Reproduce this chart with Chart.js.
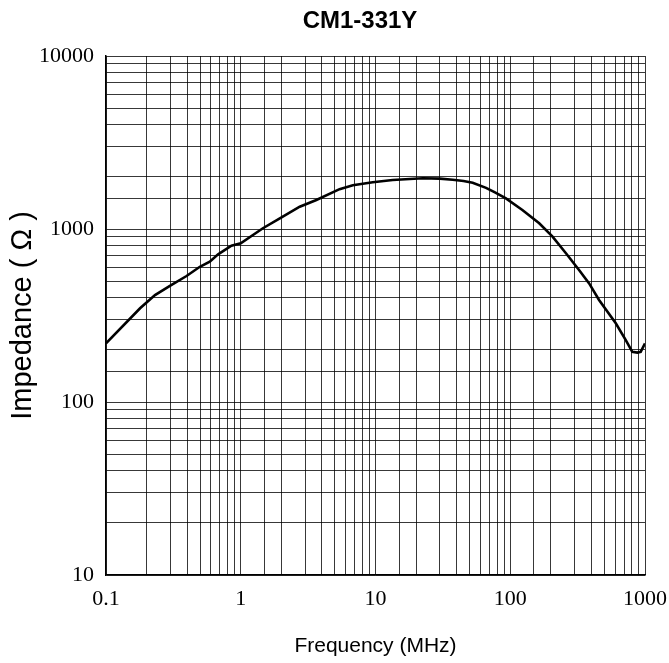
<!DOCTYPE html>
<html>
<head>
<meta charset="utf-8">
<script src="https://cdn.jsdelivr.net/npm/chart.js@4/dist/chart.umd.min.js"></script>
<style>
  html, body { margin: 0; padding: 0; background: #fff; }
  #wrap { width: 669px; height: 663px; }
</style>
</head>
<body>
<div id="wrap"><canvas id="impChart" width="669" height="663"></canvas></div>
<script>
// --- data ---
const chartTitle = "CM1-331Y";
const freqMHz = [0.1, 0.179, 0.231, 0.298, 0.396, 0.497, 0.589, 0.679, 0.853, 1.0,
                 1.46, 1.95, 2.74, 3.64, 5.41, 6.79, 9.55, 13.4, 22.4, 30.0, 37.4,
                 45.0, 52.6, 66.1, 77.0, 92.9, 123, 164, 206, 259, 324, 385, 456,
                 607, 720, 805, 877, 929, 1000];
const impedanceOhm = [218, 348, 415, 469, 535, 605, 647, 714, 801, 827,
                      1010, 1153, 1345, 1471, 1700, 1790, 1862, 1920, 1965, 1955, 1925,
                      1895, 1850, 1730, 1630, 1504, 1288, 1079, 903, 724, 579, 485, 389,
                      285, 228, 195, 193, 195, 218];
const xTickValues = [0.1, 1, 10, 100, 1000];
const xTickLabels = ["0.1", "1", "10", "100", "1000"];
const yTickValues = [10, 100, 1000, 10000];
const yTickLabels = ["10", "100", "1000", "10000"];

const points = freqMHz.map((f, i) => ({ x: f, y: impedanceOhm[i] }));

// only label the decades, the other log ticks just get grid lines
function decadeLabel(values, labels) {
  return function (value) {
    for (let i = 0; i < values.length; i++) {
      if (Math.abs(Math.log10(value) - Math.log10(values[i])) < 1e-6) return labels[i];
    }
    return "";
  };
}

// title sits a bit left of the plot centre in the original
const titlePlugin = {
  id: "titleText",
  afterDraw(chart) {
    const ctx = chart.ctx;
    ctx.save();
    ctx.font = "bold 24px 'Liberation Sans', Arial, sans-serif";
    ctx.fillStyle = "#000";
    ctx.textAlign = "center";
    ctx.textBaseline = "middle";
    ctx.fillText(chartTitle, 360, 21);
    ctx.restore();
  }
};

const gridStyle = { color: "rgba(0,0,0,0.78)", lineWidth: 1, drawTicks: false };

new Chart(document.getElementById("impChart"), {
  type: "line",
  data: {
    datasets: [{
      data: points,
      borderColor: "#000",
      borderWidth: 2.6,
      pointRadius: 0,
      tension: 0,
      fill: false
    }]
  },
  options: {
    responsive: false,
    devicePixelRatio: 1,
    animation: false,
    layout: { autoPadding: false, padding: { left: 0, right: 24, top: 56, bottom: 0 } },
    plugins: { legend: { display: false }, tooltip: { enabled: false } },
    scales: {
      x: {
        type: "logarithmic",
        min: 0.1,
        max: 1000,
        grid: gridStyle,
        border: { color: "#000", width: 1.5 },
        ticks: {
          autoSkip: false,
          maxRotation: 0,
          padding: 11,
          color: "#000",
          font: { family: "'Liberation Serif', 'Times New Roman', serif", size: 22 },
          callback: decadeLabel(xTickValues, xTickLabels)
        },
        title: {
          display: true,
          text: "Frequency (MHz)",
          color: "#000",
          font: { family: "'Liberation Sans', Arial, sans-serif", size: 21 },
          padding: { top: 0, bottom: 4 }
        },
        afterFit(scale) {
          scale.height = 88;
          scale.paddingLeft = 0;
          scale.paddingRight = 0;
        }
      },
      y: {
        type: "logarithmic",
        min: 10,
        max: 10000,
        grid: gridStyle,
        border: { color: "#000", width: 1.5 },
        ticks: {
          autoSkip: false,
          padding: 12,
          color: "#000",
          font: { family: "'Liberation Serif', 'Times New Roman', serif", size: 22 },
          callback: decadeLabel(yTickValues, yTickLabels)
        },
        title: {
          display: true,
          text: "Impedance ( Ω )",
          color: "#000",
          font: { family: "'Liberation Sans', Arial, sans-serif", size: 29 },
          padding: { top: 6, bottom: 0 }
        },
        afterFit(scale) {
          scale.width = 106;
          scale.paddingTop = 0;
          scale.paddingBottom = 0;
        }
      }
    }
  },
  plugins: [titlePlugin]
});
</script>
</body>
</html>
